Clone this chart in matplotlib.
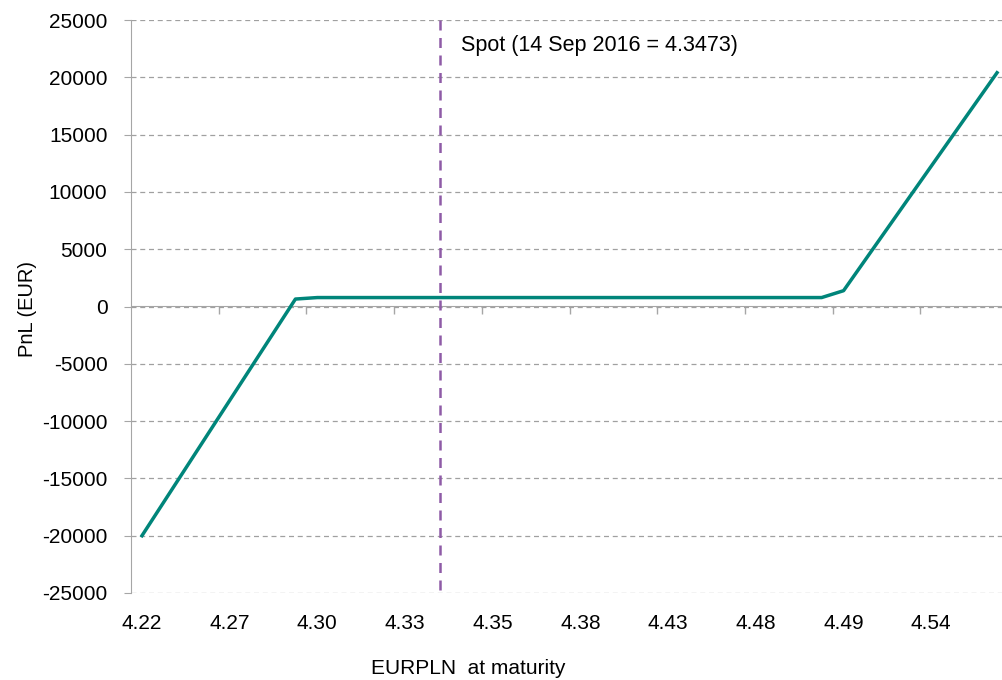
import matplotlib
matplotlib.use('Agg')
import matplotlib.pyplot as plt

plt.rcParams['font.family'] = ['Liberation Sans', 'DejaVu Sans']
plt.rcParams['axes.unicode_minus'] = False

# category axis: 40 strike points, labelled every 4th
n_cat = 40
label_idx = [0, 4, 8, 12, 16, 20, 24, 28, 32, 36]
labels = ['4.22', '4.27', '4.30', '4.33', '4.35', '4.38', '4.43', '4.48', '4.49', '4.54']

# payoff breakpoints (category index, PnL in EUR)
pnl_idx = [0, 7, 8, 31, 32, 39]
pnl = [-20000, 650, 780, 780, 1380, 20400]

spot_idx = 13.6
spot_text = 'Spot (14 Sep 2016 = 4.3473)'

fs = 15
fig = plt.figure(figsize=(10.03, 6.8), dpi=100)
ax = fig.add_axes([131/1003, 87/680, 877/1003, 573/680])

grey = '#A6A6A6'
ax.set_xlim(-0.5, n_cat - 0.5)
ax.set_ylim(-25000, 25000)
ax.set_yticks(range(-25000, 25001, 5000))
ax.yaxis.grid(True, linestyle=(0, (4, 3)), color='#A0A0A0', linewidth=0.9)
ax.set_axisbelow(True)

for s in ['top', 'right', 'bottom']:
    ax.spines[s].set_visible(False)
ax.spines['left'].set_color(grey)
ax.tick_params(axis='y', colors=grey, labelcolor='black', labelsize=fs, length=5,
               direction='out', pad=12)
ax.set_xticks(label_idx)
ax.set_xticklabels(labels, fontsize=fs)
ax.tick_params(axis='x', length=0, pad=15)

# x axis line crossing at zero, with tick marks between categories
sec = ax.secondary_xaxis(0.5)
sec.set_xticks([i - 0.5 for i in range(4, n_cat + 1, 4)])
sec.set_xticklabels([])
sec.tick_params(axis='x', colors=grey, length=6, width=1, direction='in')
for sp in sec.spines.values():
    sp.set_color(grey)

ax.plot(pnl_idx, pnl, color='#00857A', linewidth=2.5, zorder=4)
ax.axvline(spot_idx, ymin=0.005, ymax=1, color='#8E5BA6', linewidth=1.8,
           linestyle=(0, (4, 3)), zorder=3)
ax.text(spot_idx + 0.95, 22800, spot_text, fontsize=15.5, va='center')

ax.set_ylabel('PnL (EUR)', fontsize=14.5)
ax.yaxis.set_label_coords(-0.107, 0.495)
ax.set_xlabel('EURPLN  at maturity', fontsize=fs)
ax.xaxis.set_label_coords(0.385, -0.115)

fig.savefig('out.png', dpi=100)
